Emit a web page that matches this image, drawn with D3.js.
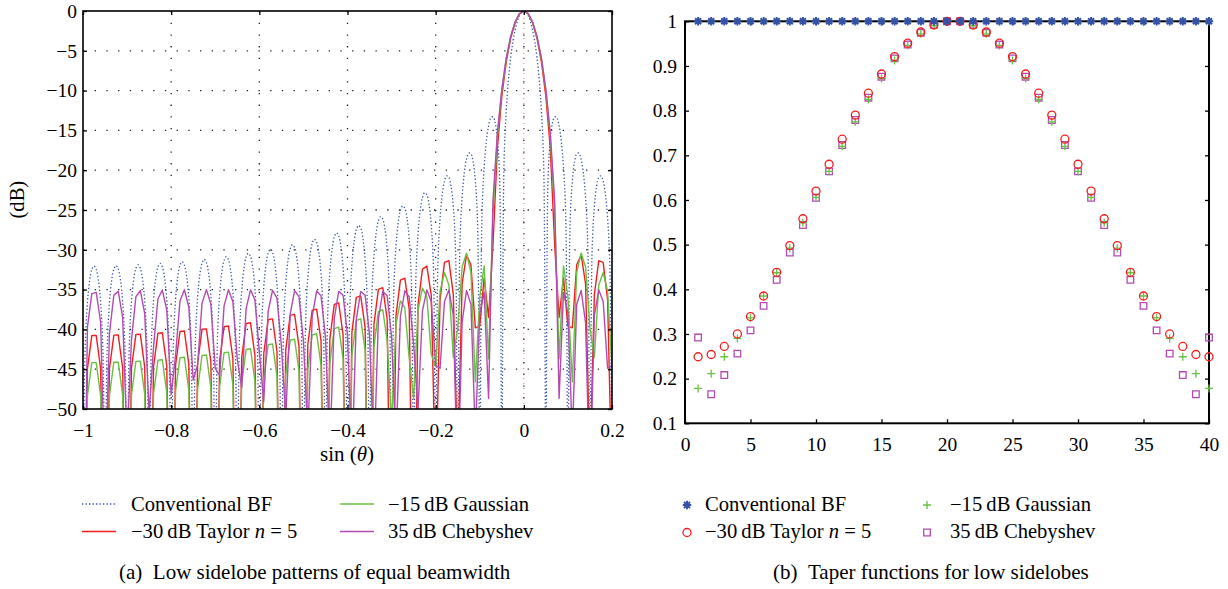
<!DOCTYPE html>
<html><head><meta charset="utf-8">
<script src="https://cdn.jsdelivr.net/npm/d3@7"></script>
<style>
body{margin:0;background:#fff;}
svg text{font-family:"Liberation Serif","Times New Roman",serif;fill:#000;}
</style></head><body>
<svg id="chart" width="1228" height="589"></svg>
<script>
// ---------------- data: beam patterns (dB) ----------------
const uFine = [
-1,-0.995,-0.99,-0.985,-0.98,-0.975,-0.97,-0.965,-0.96,-0.955,
-0.95,-0.945,-0.94,-0.935,-0.93,-0.925,-0.92,-0.915,-0.91,-0.905,
-0.9,-0.895,-0.89,-0.885,-0.88,-0.875,-0.87,-0.865,-0.86,-0.855,
-0.85,-0.845,-0.84,-0.835,-0.83,-0.825,-0.82,-0.815,-0.81,-0.805,
-0.8,-0.795,-0.79,-0.785,-0.78,-0.775,-0.77,-0.765,-0.76,-0.755,
-0.75,-0.745,-0.74,-0.735,-0.73,-0.725,-0.72,-0.715,-0.71,-0.705,
-0.7,-0.695,-0.69,-0.685,-0.68,-0.675,-0.67,-0.665,-0.66,-0.655,
-0.65,-0.645,-0.64,-0.635,-0.63,-0.625,-0.62,-0.615,-0.61,-0.605,
-0.6,-0.595,-0.59,-0.585,-0.58,-0.575,-0.57,-0.565,-0.56,-0.555,
-0.55,-0.545,-0.54,-0.535,-0.53,-0.525,-0.52,-0.515,-0.51,-0.505,
-0.5,-0.495,-0.49,-0.485,-0.48,-0.475,-0.47,-0.465,-0.46,-0.455,
-0.45,-0.445,-0.44,-0.435,-0.43,-0.425,-0.42,-0.415,-0.41,-0.405,
-0.4,-0.395,-0.39,-0.385,-0.38,-0.375,-0.37,-0.365,-0.36,-0.355,
-0.35,-0.345,-0.34,-0.335,-0.33,-0.325,-0.32,-0.315,-0.31,-0.305,
-0.3,-0.295,-0.29,-0.285,-0.28,-0.275,-0.27,-0.265,-0.26,-0.255,
-0.25,-0.245,-0.24,-0.235,-0.23,-0.225,-0.22,-0.215,-0.21,-0.205,
-0.2,-0.195,-0.19,-0.185,-0.18,-0.175,-0.17,-0.165,-0.16,-0.155,
-0.15,-0.145,-0.14,-0.135,-0.13,-0.125,-0.12,-0.115,-0.11,-0.105,
-0.1,-0.095,-0.09,-0.085,-0.08,-0.075,-0.07,-0.065,-0.06,-0.055,
-0.05,-0.045,-0.04,-0.035,-0.03,-0.025,-0.02,-0.015,-0.01,-0.005,
0,0.005,0.01,0.015,0.02,0.025,0.03,0.035,0.04,0.045,
0.05,0.055,0.06,0.065,0.07,0.075,0.08,0.085,0.09,0.095,
0.1,0.105,0.11,0.115,0.12,0.125,0.13,0.135,0.14,0.145,
0.15,0.155,0.16,0.165,0.17,0.175,0.18,0.185,0.19,0.195,
0.2];
const conventionalPattern = [
-60,-42.24,-36.66,-33.88,-32.48,-32.04,-32.47,-33.87,-36.64,-42.22,
-60,-42.21,-36.62,-33.84,-32.43,-31.98,-32.41,-33.80,-36.57,-42.14,
-60,-42.12,-36.53,-33.74,-32.33,-31.88,-32.30,-33.69,-36.45,-42.02,
-60,-41.98,-36.38,-33.59,-32.17,-31.71,-32.13,-33.51,-36.27,-41.83,
-60,-41.78,-36.18,-33.38,-31.95,-31.49,-31.90,-33.28,-36.03,-41.58,
-60,-41.53,-35.92,-33.11,-31.67,-31.20,-31.61,-32.98,-35.73,-41.28,
-60,-41.21,-35.59,-32.77,-31.33,-30.86,-31.26,-32.62,-35.36,-40.90,
-60,-40.82,-35.19,-32.37,-30.92,-30.44,-30.83,-32.19,-34.92,-40.45,
-60,-40.35,-34.72,-31.89,-30.43,-29.94,-30.33,-31.68,-34.40,-39.92,
-60,-39.80,-34.16,-31.32,-29.86,-29.36,-29.73,-31.07,-33.78,-39.30,
-60,-39.16,-33.51,-30.66,-29.19,-28.68,-29.04,-30.37,-33.07,-38.57,
-60,-38.41,-32.75,-29.89,-28.40,-27.88,-28.23,-29.54,-32.23,-37.72,
-60,-37.53,-31.85,-28.98,-27.48,-26.94,-27.27,-28.57,-31.24,-36.71,
-60,-36.49,-30.80,-27.90,-26.38,-25.82,-26.14,-27.41,-30.06,-35.51,
-60,-35.25,-29.53,-26.61,-25.06,-24.48,-24.77,-26.02,-28.64,-34.06,
-60,-33.73,-27.98,-25.03,-23.45,-22.83,-23.08,-24.29,-26.87,-32.25,
-60,-31.83,-26.03,-23.02,-21.39,-20.71,-20.91,-22.05,-24.57,-29.88,
-60,-29.31,-23.43,-20.34,-18.62,-17.85,-17.93,-18.97,-21.37,-26.55,
-60,-25.68,-19.64,-16.36,-14.44,-13.44,-13.29,-14.04,-16.13,-20.96,
-60,-19.22,-12.61,-8.68,-5.94,-3.92,-2.42,-1.33,-0.58,-0.14,
0,-0.14,-0.58,-1.33,-2.42,-3.92,-5.94,-8.68,-12.61,-19.22,
-60,-20.96,-16.13,-14.04,-13.29,-13.44,-14.44,-16.36,-19.64,-25.68,
-60,-26.55,-21.37,-18.97,-17.93,-17.85,-18.62,-20.34,-23.43,-29.31,
-60,-29.88,-24.57,-22.05,-20.91,-20.71,-21.39,-23.02,-26.03,-31.83,
-60];
const u = [
-1,-0.99,-0.98,-0.97,-0.96,-0.95,-0.94,-0.93,-0.92,-0.91,
-0.9,-0.89,-0.88,-0.87,-0.86,-0.85,-0.84,-0.83,-0.82,-0.81,
-0.8,-0.79,-0.78,-0.77,-0.76,-0.75,-0.74,-0.73,-0.72,-0.71,
-0.7,-0.69,-0.68,-0.67,-0.66,-0.65,-0.64,-0.63,-0.62,-0.61,
-0.6,-0.59,-0.58,-0.57,-0.56,-0.55,-0.54,-0.53,-0.52,-0.51,
-0.5,-0.49,-0.48,-0.47,-0.46,-0.45,-0.44,-0.43,-0.42,-0.41,
-0.4,-0.39,-0.38,-0.37,-0.36,-0.35,-0.34,-0.33,-0.32,-0.31,
-0.3,-0.29,-0.28,-0.27,-0.26,-0.25,-0.24,-0.23,-0.22,-0.21,
-0.2,-0.19,-0.18,-0.17,-0.16,-0.15,-0.14,-0.13,-0.12,-0.11,
-0.1,-0.09,-0.08,-0.07,-0.06,-0.05,-0.04,-0.03,-0.02,-0.01,
0,0.01,0.02,0.03,0.04,0.05,0.06,0.07,0.08,0.09,
0.1,0.11,0.12,0.13,0.14,0.15,0.16,0.17,0.18,0.19,
0.2];
const taylorPattern = [
-80,-44.95,-40.77,-40.77,-44.94,-80,-44.92,-40.72,-40.71,-44.87,
-80,-44.83,-40.62,-40.59,-44.74,-80,-44.69,-40.47,-40.43,-44.57,
-80,-44.48,-40.26,-40.21,-44.33,-80,-44.23,-39.99,-39.93,-44.04,
-80,-43.91,-39.66,-39.58,-43.68,-80,-43.53,-39.26,-39.17,-43.26,
-80,-43.06,-38.79,-38.68,-42.75,-80,-42.53,-38.24,-38.11,-42.17,
-80,-41.90,-37.58,-37.45,-41.48,-80,-41.18,-36.85,-36.68,-40.69,
-80,-40.34,-35.97,-35.79,-39.78,-80,-39.37,-34.98,-34.76,-38.72,
-80,-38.24,-33.82,-33.56,-37.47,-80,-36.90,-32.42,-32.06,-35.73,
-59.97,-36.25,-31.59,-31.36,-35.62,-57.28,-34.24,-30.65,-31.87,-39.8,
-39.6,-33.5,-38.5,-29.39,-17.20,-10.73,-6.43,-3.46,-1.50,-0.37,
0,-0.37,-1.50,-3.46,-6.43,-10.73,-17.20,-29.39,-38.5,-33.5,
-39.6,-39.8,-31.87,-30.65,-34.24,-57.28,-35.62,-31.36,-31.59,-36.25,
-59.97];
const gaussianPattern = [
-80,-48.35,-44.17,-44.17,-48.34,-80,-48.32,-44.12,-44.11,-48.27,
-80,-48.23,-44.02,-43.99,-48.14,-80,-48.08,-43.86,-43.82,-47.96,
-80,-47.77,-43.55,-43.50,-47.62,-80,-47.51,-43.27,-43.21,-47.32,
-80,-47.18,-42.93,-42.85,-46.95,-80,-46.79,-42.52,-42.43,-46.51,
-80,-46.21,-41.93,-41.82,-45.89,-80,-45.66,-41.36,-41.23,-45.28,
-80,-45.01,-40.68,-40.54,-44.56,-80,-44.24,-39.90,-39.72,-43.72,
-80,-43.25,-38.87,-38.67,-42.64,-80,-42.19,-37.78,-37.53,-41.46,
-51.8,-39.38,-36.43,-37.28,-43.64,-48.66,-37.54,-34.82,-35.93,-43.17,
-44.70,-35.20,-32.85,-34.41,-43.53,-39.84,-32.15,-30.41,-32.82,-46.6,
-35.96,-32.02,-43.7,-25.41,-15.80,-10.02,-6.05,-3.27,-1.42,-0.36,
0,-0.36,-1.42,-3.27,-6.05,-10.02,-15.80,-25.41,-43.7,-32.02,
-35.96,-46.6,-32.82,-30.41,-32.15,-39.84,-43.53,-34.41,-32.85,-35.20,
-44.70];
const chebyshevPattern = [
-80,-39.75,-35.50,-35.35,-39.10,-60.04,-40.48,-35.69,-35.22,-38.53,
-54.06,-41.30,-35.90,-35.13,-38.02,-50.59,-42.22,-36.15,-35.06,-37.57,
-48.18,-43.26,-36.42,-35.02,-37.18,-46.35,-44.45,-36.72,-35.00,-36.83,
-44.91,-45.79,-37.04,-35.01,-36.54,-43.74,-47.32,-37.38,-35.03,-36.29,
-42.79,-49.07,-37.73,-35.08,-36.08,-42.01,-51.05,-38.07,-35.13,-35.91,
-41.42,-53.16,-38.37,-35.18,-35.79,-40.97,-55.30,-38.61,-35.22,-35.71,
-40.70,-56.88,-38.74,-35.24,-35.69,-40.65,-56.85,-38.70,-35.23,-35.74,
-40.93,-54.46,-38.38,-35.15,-35.93,-41.85,-50.11,-37.68,-35.04,-36.48,
-44.50,-44.88,-36.50,-35.06,-38.21,-60.18,-39.12,-35.10,-36.83,-53.41,
-38.00,-35.32,-48.67,-23.85,-15.33,-9.83,-5.96,-3.24,-1.40,-0.33,
0,-0.33,-1.40,-3.24,-5.96,-9.83,-15.33,-23.85,-48.67,-35.32,
-38.00,-53.41,-36.83,-35.10,-39.12,-60.18,-38.21,-35.06,-36.50,-44.88,
-44.50];

// ---------------- data: taper functions ----------------
const element = [1,2,3,4,5,6,7,8,9,10,11,12,13,14,15,16,17,18,19,20,
21,22,23,24,25,26,27,28,29,30,31,32,33,34,35,36,37,38,39,40];
const conventionalTaper = [1,1,1,1,1,1,1,1,1,1,1,1,1,1,1,1,1,1,1,1,
1,1,1,1,1,1,1,1,1,1,1,1,1,1,1,1,1,1,1,1];
const taylorTaper = [0.249,0.254,0.272,0.300,0.339,0.385,0.438,0.498,0.558,0.620,
0.680,0.736,0.790,0.839,0.882,0.921,0.951,0.976,0.992,1.000,
1.000,0.992,0.976,0.951,0.921,0.882,0.839,0.790,0.736,0.680,
0.620,0.558,0.498,0.438,0.385,0.339,0.300,0.272,0.254,0.249];
const gaussianTaper = [0.178,0.211,0.249,0.290,0.336,0.385,0.437,0.492,0.549,0.606,
0.664,0.720,0.775,0.825,0.872,0.912,0.946,0.972,0.990,0.999,
0.999,0.990,0.972,0.946,0.912,0.872,0.825,0.775,0.720,0.664,
0.606,0.549,0.492,0.437,0.385,0.336,0.290,0.249,0.211,0.178];
const chebyshevTaper = [0.292,0.165,0.208,0.256,0.308,0.363,0.421,0.482,0.544,0.605,
0.664,0.723,0.779,0.829,0.876,0.917,0.948,0.974,0.992,1.000,
1.000,0.992,0.974,0.948,0.917,0.876,0.829,0.779,0.723,0.664,
0.605,0.544,0.482,0.421,0.363,0.308,0.256,0.208,0.165,0.292];

// ---------------- ticks & labels ----------------
const patternXTicks = [-1,-0.8,-0.6,-0.4,-0.2,0,0.2];
const patternXLabels = ["\u22121","\u22120.8","\u22120.6","\u22120.4","\u22120.2","0","0.2"];
const patternYTicks = [0,-5,-10,-15,-20,-25,-30,-35,-40,-45,-50];
const patternYLabels = ["0","\u22125","\u221210","\u221215","\u221220","\u221225","\u221230","\u221235","\u221240","\u221245","\u221250"];
const taperXTicks = [0,5,10,15,20,25,30,35,40];
const taperXLabels = ["0","5","10","15","20","25","30","35","40"];
const taperYTicks = [0.1,0.2,0.3,0.4,0.5,0.6,0.7,0.8,0.9,1];
const taperYLabels = ["0.1","0.2","0.3","0.4","0.5","0.6","0.7","0.8","0.9","1"];
const seriesKeys = ["conv","taylor","gauss","cheb"];
const colors = {conv:"#3553a6", taylor:"#f41d1d", gauss:"#68c143", cheb:"#b24bb2"};

// ---------------- drawing ----------------
const svg = d3.select("#chart");
svg.append("rect").attr("width",1228).attr("height",589).attr("fill","#fff");
const FONT = "Liberation Serif, Times New Roman, serif";
const TICK = 19.5, LEG = 20.6;

function styleAxis(g, size){
  g.attr("font-family",FONT).attr("font-size",size);
  g.select(".domain").remove();
  g.selectAll(".tick line").attr("stroke","#000").attr("stroke-width",1.3);
  g.selectAll(".tick text").attr("fill","#000").attr("font-family",FONT).attr("font-size",size);
}

// ===== Left panel =====
const xL = d3.scaleLinear().domain([-1,0.2]).range([83,612]);
const yL = d3.scaleLinear().domain([-50,0]).range([409,11]);
const L = svg.append("g");
svg.append("defs").append("clipPath").attr("id","clipL").append("rect")
  .attr("x",xL(-1)).attr("y",yL(0)).attr("width",xL(0.2)-xL(-1)).attr("height",yL(-50)-yL(0));

// grid
L.append("g").selectAll("line").data(patternYTicks.filter(t=>t<0&&t>-50)).join("line")
  .attr("x1",xL(-1)).attr("x2",xL(0.2)).attr("y1",d=>yL(d)).attr("y2",d=>yL(d))
  .attr("stroke","#222").attr("stroke-width",1.3).attr("stroke-dasharray","1.3 10.4");
L.append("g").selectAll("line").data(patternXTicks.filter(t=>t>-1&&t<0.2)).join("line")
  .attr("x1",d=>xL(d)).attr("x2",d=>xL(d)).attr("y1",yL(0)).attr("y2",yL(-50))
  .attr("stroke","#222").attr("stroke-width",1.3).attr("stroke-dasharray","1.3 10.4");
L.append("line").attr("x1",xL(0)).attr("x2",xL(0)).attr("y1",yL(0)).attr("y2",yL(-50))
  .attr("stroke","#f07070").attr("stroke-width",1).attr("stroke-dasharray","1 4").attr("stroke-dashoffset",3);

const lines = L.append("g").attr("clip-path","url(#clipL)");
const smooth = d3.line().x((d,i)=>xL(uFine[i])).y(d=>yL(d)).curve(d3.curveCatmullRom.alpha(0.5));
const coarse = d3.line().x((d,i)=>xL(u[i])).y(d=>yL(d));
lines.append("path").attr("d",smooth(conventionalPattern)).attr("fill","none")
  .attr("stroke",colors.conv).attr("stroke-width",1.3).attr("stroke-dasharray","1.3 2.2");
lines.append("path").attr("d",coarse(taylorPattern)).attr("fill","none")
  .attr("stroke",colors.taylor).attr("stroke-width",1.4).attr("stroke-linejoin","round");
lines.append("path").attr("d",coarse(gaussianPattern)).attr("fill","none")
  .attr("stroke",colors.gauss).attr("stroke-width",1.4).attr("stroke-linejoin","round");
lines.append("path").attr("d",coarse(chebyshevPattern)).attr("fill","none")
  .attr("stroke",colors.cheb).attr("stroke-width",1.4).attr("stroke-linejoin","round");

// axes
L.append("g").attr("transform",`translate(${xL(-1)},0)`)
  .call(d3.axisLeft(yL).tickValues(patternYTicks).tickFormat((d,i)=>patternYLabels[i]).tickSize(-4).tickPadding(6))
  .call(g=>styleAxis(g,TICK));
L.append("g").attr("transform",`translate(${xL(0.2)},0)`)
  .call(d3.axisRight(yL).tickValues(patternYTicks).tickFormat("").tickSize(-4))
  .call(g=>styleAxis(g,TICK));
L.append("g").attr("transform",`translate(0,${yL(-50)})`)
  .call(d3.axisBottom(xL).tickValues(patternXTicks).tickFormat((d,i)=>patternXLabels[i]).tickSize(-4).tickPadding(14.5))
  .call(g=>styleAxis(g,TICK));
L.append("g").attr("transform",`translate(0,${yL(0)})`)
  .call(d3.axisTop(xL).tickValues(patternXTicks).tickFormat("").tickSize(-4))
  .call(g=>styleAxis(g,TICK));
L.append("rect").attr("x",xL(-1)).attr("y",yL(0)).attr("width",xL(0.2)-xL(-1)).attr("height",yL(-50)-yL(0))
  .attr("fill","none").attr("stroke","#000").attr("stroke-width",1.6);

// axis titles
L.append("text").attr("transform",`translate(24,${yL(-23.7)}) rotate(-90)`).attr("text-anchor","middle")
  .attr("font-size",LEG).text("(dB)");
const xt = L.append("text").attr("x",347).attr("y",461).attr("text-anchor","middle").attr("font-size",21);
xt.append("tspan").text("sin (");
xt.append("tspan").attr("font-style","italic").text("\u03b8");
xt.append("tspan").text(")");

// ===== Right panel =====
const xR = d3.scaleLinear().domain([0,40]).range([685,1209]);
const yR = d3.scaleLinear().domain([0.1,1]).range([423.3,21.3]);
const R = svg.append("g");
R.append("g").attr("transform",`translate(${xR(0)},0)`)
  .call(d3.axisLeft(yR).tickValues(taperYTicks).tickFormat((d,i)=>taperYLabels[i]).tickSize(-4).tickPadding(8))
  .call(g=>styleAxis(g,TICK));
R.append("g").attr("transform",`translate(${xR(40)},0)`)
  .call(d3.axisRight(yR).tickValues(taperYTicks).tickFormat("").tickSize(-4))
  .call(g=>styleAxis(g,TICK));
R.append("g").attr("transform",`translate(0,${yR(0.1)})`)
  .call(d3.axisBottom(xR).tickValues(taperXTicks).tickFormat((d,i)=>taperXLabels[i]).tickSize(-4).tickPadding(14))
  .call(g=>styleAxis(g,TICK));
R.append("g").attr("transform",`translate(0,${yR(1)})`)
  .call(d3.axisTop(xR).tickValues(taperXTicks).tickFormat("").tickSize(-4))
  .call(g=>styleAxis(g,TICK));
R.append("rect").attr("x",xR(0)).attr("y",yR(1)).attr("width",xR(40)-xR(0)).attr("height",yR(0.1)-yR(1))
  .attr("fill","none").attr("stroke","#000").attr("stroke-width",2);

const markerPath = {
  conv: "M-4.2,0L4.2,0M0,-4.2L0,4.2M-3,-3L3,3M-3,3L3,-3",
  gauss: "M-4,0L4,0M0,-4L0,4",
  cheb: "M-3.3,-3.3L3.3,-3.3L3.3,3.3L-3.3,3.3Z"
};
function drawMarker(g, key){
  if(key==="taylor"){
    g.append("circle").attr("r",4).attr("fill","none").attr("stroke",colors.taylor).attr("stroke-width",1.3);
  } else {
    g.append("path").attr("d",markerPath[key]).attr("fill","none")
      .attr("stroke",colors[key]).attr("stroke-width",key==="conv"?2:1.3);
  }
}
const taperData = {conv:conventionalTaper, taylor:taylorTaper, gauss:gaussianTaper, cheb:chebyshevTaper};
["cheb","gauss","taylor","conv"].forEach(key=>{
  const grp = R.append("g");
  grp.selectAll("g").data(taperData[key]).join("g")
    .attr("transform",(d,i)=>`translate(${xR(element[i])},${yR(d)})`)
    .each(function(){ drawMarker(d3.select(this), key); });
});

// ===== Legends =====
function legendText(g, x, y, parts){
  const t = g.append("text").attr("x",x).attr("y",y).attr("font-size",LEG);
  parts.forEach(p=>{ const s=t.append("tspan").text(p[0]); if(p[1]) s.attr("font-style","italic"); });
}
const labelParts = {
  conv:[["Conventional BF"]],
  taylor:[["\u221230\u2009dB Taylor "],["n",true],[" = 5"]],
  gauss:[["\u221215\u2009dB Gaussian"]],
  cheb:[["35\u2009dB Chebyshev"]]
};
const legPos = {conv:[0,0], gauss:[1,0], taylor:[0,1], cheb:[1,1]};
const LG = svg.append("g");
seriesKeys.forEach(key=>{
  const [c,r] = legPos[key];
  const ly = 504 + r*27.5;
  const x0 = c===0 ? 82 : 340;
  const ln = LG.append("line").attr("x1",x0).attr("x2",x0+34).attr("y1",ly).attr("y2",ly)
    .attr("stroke",colors[key]).attr("stroke-width",1.4);
  if(key==="conv") ln.attr("stroke-dasharray","1.3 2.2");
  legendText(LG, c===0?131:388, ly+6.8, labelParts[key]);
  const mx = c===0 ? 687 : 927;
  const mg = LG.append("g").attr("transform",`translate(${mx},${ly+1})`);
  drawMarker(mg, key);
  legendText(LG, c===0?705:950, ly+6.8, labelParts[key]);
});
LG.append("text").attr("x",119).attr("y",579).attr("font-size",21).text("(a)\u2002Low sidelobe patterns of equal beamwidth");
LG.append("text").attr("x",773).attr("y",579).attr("font-size",21).text("(b)\u2002Taper functions for low sidelobes");
</script>
</body></html>
